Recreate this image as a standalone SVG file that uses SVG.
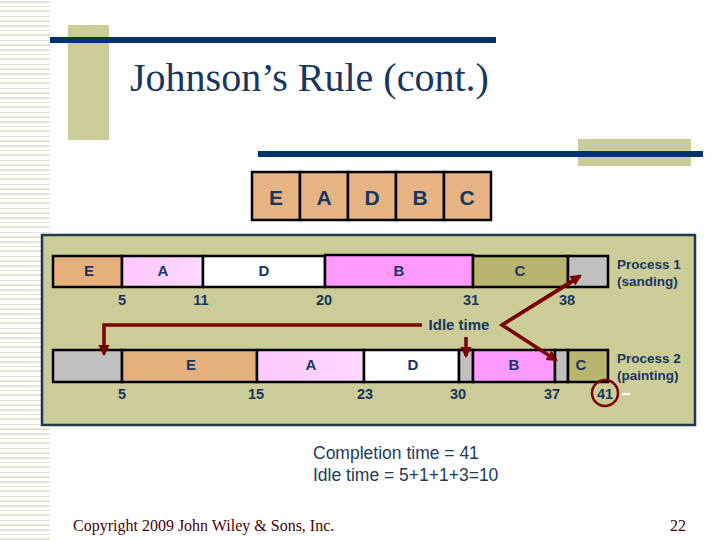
<svg xmlns="http://www.w3.org/2000/svg" width="720" height="540" viewBox="0 0 720 540">
<defs>
<style>
.bar{stroke:#000;stroke-width:2.5}
.lbl{font-family:"Liberation Sans",Arial,sans-serif;font-weight:bold;fill:#17375E;text-anchor:middle}
.seq{font-size:21px}
.cell{font-size:15px}
.num{font-size:14.5px}
.proc{font-family:"Liberation Sans",Arial,sans-serif;font-weight:bold;fill:#17375E;font-size:13.5px}
.conn{stroke:#7A0000;stroke-width:3.5;fill:none}
.sum{font-family:"Liberation Sans",Arial,sans-serif;font-size:17.5px;fill:#1F3A5A}
.foot{font-family:"Liberation Serif","Times New Roman",serif;font-size:16px;fill:#4A0000}
</style>
<marker id="ah" viewBox="0 0 10 10" refX="8" refY="5" markerWidth="3.2" markerHeight="3.2" orient="auto" markerUnits="strokeWidth">
<path d="M0,0 L10,5 L0,10 z" fill="#7A0000"/>
</marker>
<linearGradient id="pinkA" x1="0" y1="0" x2="1" y2="0">
<stop offset="0" stop-color="#FFC8FF"/>
<stop offset="1" stop-color="#FFD8FF"/>
</linearGradient>
<pattern id="stripes" width="50" height="24" patternUnits="userSpaceOnUse">
<rect x="0" y="1" width="50" height="2" fill="#E4E4D2"/>
<rect x="0" y="6" width="50" height="1" fill="#E4E4D2"/>
<rect x="0" y="10" width="50" height="2" fill="#E4E4D2"/>
<rect x="0" y="16" width="50" height="1" fill="#E4E4D2"/>
<rect x="0" y="20" width="50" height="2" fill="#E4E4D2"/>
</pattern>
</defs>
<rect width="720" height="540" fill="#FFFFFF"/>
<g id="decor">
<rect x="0" y="0" width="50" height="540" fill="url(#stripes)"/>
<rect x="68" y="25" width="41" height="115" fill="#CCCC99"/>
<rect x="50" y="37" width="446" height="6" fill="#003366"/>
<rect x="578" y="139" width="113" height="27" fill="#CCCC99"/>
<rect x="258" y="151" width="445" height="6" fill="#003366"/>
</g>
<g id="title">
<text x="130" y="91" font-family="Liberation Serif,'Times New Roman',serif" font-size="40" fill="#17375E">Johnson’s Rule (cont.)</text>
</g>
<g id="sequence">
<g id="seq-E"><rect x="252" y="172" width="48" height="48" fill="#E6B482" class="bar"/><text x="276" y="205" class="lbl seq">E</text></g>
<g id="seq-A"><rect x="300" y="172" width="48" height="48" fill="#E6B482" class="bar"/><text x="324" y="205" class="lbl seq">A</text></g>
<g id="seq-D"><rect x="348" y="172" width="48" height="48" fill="#E6B482" class="bar"/><text x="372" y="205" class="lbl seq">D</text></g>
<g id="seq-B"><rect x="396" y="172" width="48" height="48" fill="#E6B482" class="bar"/><text x="420" y="205" class="lbl seq">B</text></g>
<g id="seq-C"><rect x="444" y="172" width="47" height="48" fill="#E6B482" class="bar"/><text x="467" y="205" class="lbl seq">C</text></g>
</g>
<g id="panel">
<rect x="42" y="235" width="653" height="190" fill="#CCCC99" stroke="#1F3A4A" stroke-width="2.5"/>
</g>
<g id="process1">
<g id="p1-E"><rect x="53" y="256" width="69" height="31" fill="#E6B07E" class="bar"/><text x="89" y="276" class="lbl cell">E</text></g>
<g id="p1-A"><rect x="122" y="256" width="81" height="31" fill="url(#pinkA)" class="bar"/><text x="163" y="276" class="lbl cell">A</text></g>
<g id="p1-D"><rect x="203" y="256" width="122" height="31" fill="#FFFFFF" class="bar"/><text x="264" y="276" class="lbl cell">D</text></g>
<g id="p1-B"><rect x="325" y="255" width="148" height="32" fill="#FF99FF" class="bar"/><text x="399" y="276" class="lbl cell">B</text></g>
<g id="p1-C"><rect x="473" y="256" width="95" height="31" fill="#B9B46E" class="bar"/><text x="520" y="276" class="lbl cell">C</text></g>
<g id="p1-idle"><rect x="568" y="256" width="40" height="31" fill="#C0C0C0" class="bar"/></g>
<text x="122" y="305" class="lbl num">5</text>
<text x="201" y="305" class="lbl num">11</text>
<text x="324" y="305" class="lbl num">20</text>
<text x="471" y="305" class="lbl num">31</text>
<text x="567" y="305" class="lbl num">38</text>
<text x="617" y="269" class="proc">Process 1</text>
<text x="617" y="286" class="proc">(sanding)</text>
</g>
<g id="process2">
<g id="p2-idle1"><rect x="53" y="350" width="69" height="32" fill="#C0C0C0" class="bar"/></g>
<g id="p2-E"><rect x="122" y="350" width="135" height="32" fill="#E6B07E" class="bar"/><text x="191" y="370" class="lbl cell">E</text></g>
<g id="p2-A"><rect x="257" y="350" width="107" height="32" fill="url(#pinkA)" class="bar"/><text x="311" y="370" class="lbl cell">A</text></g>
<g id="p2-D"><rect x="364" y="350" width="95" height="32" fill="#FFFFFF" class="bar"/><text x="413" y="370" class="lbl cell">D</text></g>
<g id="p2-idle2"><rect x="459" y="350" width="14" height="32" fill="#C0C0C0" class="bar"/></g>
<g id="p2-B"><rect x="473" y="350" width="82" height="32" fill="#FF99FF" class="bar"/><text x="514" y="370" class="lbl cell">B</text></g>
<g id="p2-idle3"><rect x="555" y="350" width="13" height="32" fill="#C0C0C0" class="bar"/></g>
<g id="p2-C"><rect x="568" y="350" width="40" height="32" fill="#B9B46E" class="bar"/><text x="581" y="370" class="lbl cell">C</text></g>
<text x="122" y="399" class="lbl num">5</text>
<text x="256" y="399" class="lbl num">15</text>
<text x="365" y="399" class="lbl num">23</text>
<text x="458" y="399" class="lbl num">30</text>
<text x="552" y="399" class="lbl num">37</text>
<text x="605" y="399" class="lbl num">41</text>
<text x="617" y="363" class="proc">Process 2</text>
<text x="617" y="380" class="proc">(painting)</text>
<circle cx="605" cy="393" r="13" fill="none" stroke="#7A0000" stroke-width="2.5"/>
<line x1="622" y1="394" x2="630" y2="394" stroke="#FFFFFF" stroke-width="2"/>
</g>
<g id="idle-label">
<text x="459" y="330" class="lbl" font-size="15">Idle time</text>
</g>
<g id="connectors">
<polyline class="conn" points="422,325 104,325 104,354" marker-end="url(#ah)"/>
<line class="conn" x1="466" y1="337" x2="466" y2="356" marker-end="url(#ah)"/>
<polyline class="conn" points="578,278 502,325 556,360" marker-end="url(#ah)"/>
<line class="conn" x1="502" y1="325" x2="580" y2="276" marker-end="url(#ah)"/>
</g>
<g id="summary">
<text x="313" y="459" class="sum">Completion time = 41</text>
<text x="313" y="481" class="sum">Idle time = 5+1+1+3=10</text>
</g>
<g id="footer">
<text x="73" y="531" class="foot">Copyright 2009 John Wiley &amp; Sons, Inc.</text>
<text x="686" y="531" text-anchor="end" class="foot">22</text>
</g>
</svg>
